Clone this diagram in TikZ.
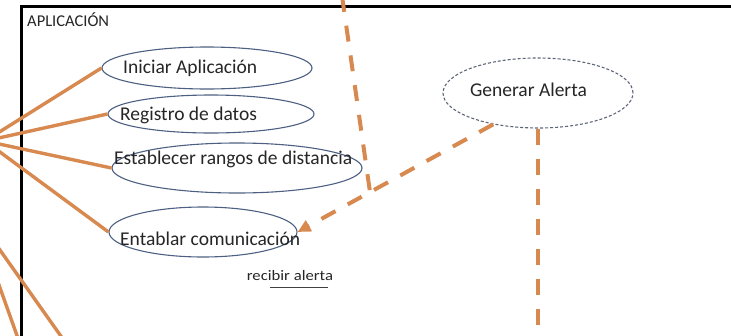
\documentclass[tikz,border=0pt]{standalone}
\usepackage{fontspec}
\setmainfont{Carlito}
\usetikzlibrary{shapes.geometric,arrows.meta}
\definecolor{lineorange}{RGB}{215,137,80}
\definecolor{ellblue}{RGB}{78,96,130}
\definecolor{ellgray}{RGB}{95,102,120}
\tikzset{
  uc/.style={ellipse,draw=ellblue,line width=1.1pt,inner sep=0pt},
  ucdash/.style={ellipse,draw=ellgray,line width=1.1pt,dash pattern=on 3pt off 2pt,inner sep=0pt},
  lbl/.style={inner sep=0pt,font=\fontsize{19.5}{22}\selectfont,text=black!85},
  assoc/.style={draw=lineorange,line width=3.4pt},
  dep/.style={draw=lineorange,line width=4pt,dash pattern=on 16pt off 14pt},
  frame/.style={draw=black,line width=3pt}
}
\begin{document}
\begin{tikzpicture}[x=1pt,y=-1pt]
\useasboundingbox (0,0) rectangle (731,335);
\clip (0,0) rectangle (731,335);
\fill[white] (0,0) rectangle (731,335);
% frame
\coordinate (fbl) at (21.5,345);
\coordinate (ftl) at (21.5,6);
\coordinate (ftr) at (745,6);
\draw[frame] (fbl) -- (ftl) -- (ftr);
\node[lbl,anchor=west,font=\fontsize{16.5}{18}\selectfont] (sys) at (27,20) {APLICACIÓN};
% ellipses
\node[uc,minimum width=210pt,minimum height=42pt] (ini) at (207,68) {};
\node[uc,minimum width=206pt,minimum height=38pt] (reg) at (211,114) {};
\node[uc,minimum width=250pt,minimum height=50pt] (est) at (237,168) {};
\node[uc,minimum width=188pt,minimum height=50pt] (ent) at (203,232) {};
\node[ucdash,minimum width=190pt,minimum height=70pt] (gen) at (538,93) {};
% labels
\node[lbl,anchor=west] (tini) at (123,68) {Iniciar Aplicación};
\node[lbl,anchor=west] (treg) at (120,115) {Registro de datos};
\node[lbl,anchor=west] (test) at (114,159) {Establecer rangos de distancia};
\node[lbl,anchor=west] (tent) at (120,239) {Entablar comunicación};
\node[lbl] (tgen) at (528.5,90) {Generar Alerta};
\node[lbl,font=\fontsize{14.5}{16}\selectfont,xscale=1.15] (rec) at (290,276) {recibir alerta};
\coordinate (ul1) at (270,287);
\coordinate (ul2) at (328,287);
\draw[black!75,line width=0.9pt] (ul1) -- (ul2);
% actors (outside)
\coordinate (act1) at (-15,141);
\coordinate (act2) at (-27,212);
\coordinate (low1) at (75,356);
\coordinate (low2) at (25,358);
\draw[assoc] (act1) -- (ini.west);
\draw[assoc] (act1) -- (reg.west);
\draw[assoc] (act1) -- (est.west);
\draw[assoc] (act1) -- (ent.west);
\draw[assoc] (act2) -- (low1);
\draw[assoc] (act2) -- (low2);
% dependencies
\coordinate (topin) at (342,-4);
\coordinate (junc) at (370,192);
\coordinate (genlow) at (538,345);
\draw[dep,-{Triangle[length=13pt,width=12pt]}] (gen.215) -- (ent.east);
\draw[dep] (topin) -- (junc);
\draw[dep] (gen.south) -- (genlow);
\end{tikzpicture}
\end{document}
